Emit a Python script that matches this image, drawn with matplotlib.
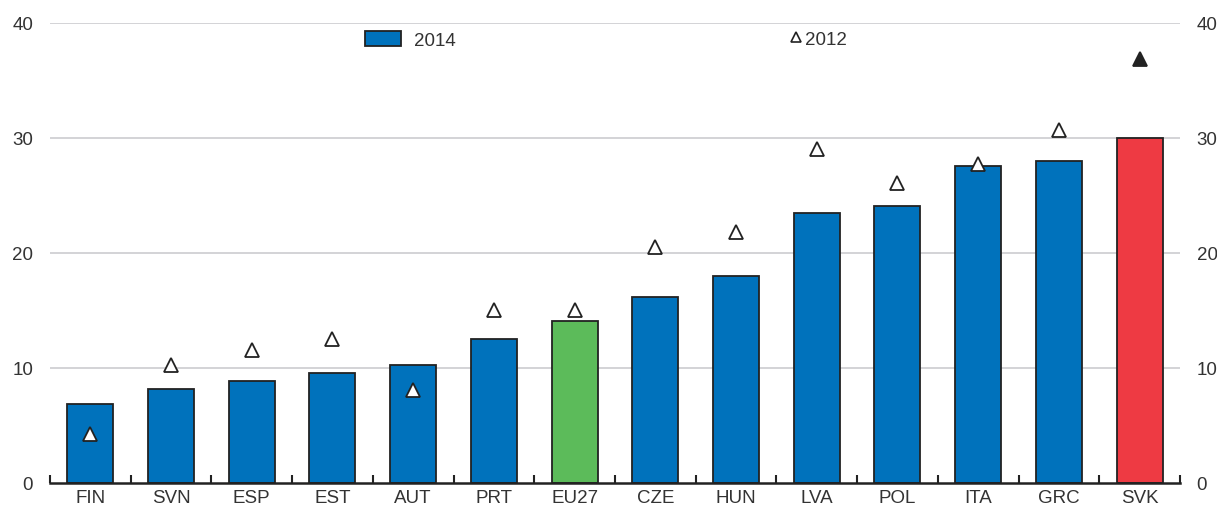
import matplotlib.pyplot as plt
import numpy as np
from matplotlib.lines import Line2D
from matplotlib.patches import Patch

plt.rcParams['font.family'] = ['Liberation Sans', 'DejaVu Sans']

countries = ["FIN", "SVN", "ESP", "EST", "AUT", "PRT", "EU27", "CZE", "HUN", "LVA", "POL", "ITA", "GRC", "SVK"]
val_2014 = [6.9, 8.2, 8.9, 9.6, 10.3, 12.5, 14.1, 16.2, 18.0, 23.5, 24.1, 27.6, 28.0, 30.0]
val_2012 = [4.3, 10.3, 11.6, 12.5, 8.1, 15.0, 15.0, 20.5, 21.8, 29.0, 26.1, 27.7, 30.7, 36.9]

blue = "#0072BC"
green = "#5CBB5A"
red = "#EE3A43"
colors = [green if c == "EU27" else red if c == "SVK" else blue for c in countries]

fig = plt.figure(figsize=(12.17, 5.10), dpi=100)
ax = fig.add_axes([0.041, 0.051, 0.9286, 0.902])
x = np.arange(len(countries))

ax.bar(x, val_2014, width=0.57, color=colors, edgecolor="#222222", linewidth=1.3, zorder=2)
for i, c in enumerate(countries):
    fc = "#222222" if c == "SVK" else "white"
    ax.plot(x[i], val_2012[i], marker="^", markersize=10, markerfacecolor=fc,
            markeredgecolor="#222222", markeredgewidth=1.3, linestyle="none", zorder=3)

ax.set_xlim(-0.5, len(countries) - 0.5)
ax.set_ylim(0, 40)
ax.set_yticks([0, 10, 20, 30, 40])
for y in [10, 20, 30, 40]:
    ax.axhline(y, color="#d3d3d6", linewidth=1.4, zorder=0)

ax.set_xticks(x)
ax.set_xticklabels(countries)
ax.set_xticks(np.arange(-0.5, len(countries), 1.0), minor=True)
ax.tick_params(axis="x", which="major", length=0, labelsize=13.5, colors="#333333", pad=4)
ax.tick_params(axis="x", which="minor", direction="in", length=6, width=1.5, color="#222222")
ax.tick_params(axis="y", length=0, labelsize=13.5, colors="#333333", labelright=True, pad=12)

for s in ["left", "right", "top"]:
    ax.spines[s].set_visible(False)
ax.spines["bottom"].set_linewidth(1.8)
ax.spines["bottom"].set_color("#222222")

leg1 = ax.legend(handles=[Patch(facecolor=blue, edgecolor="#222222", linewidth=1.3, label="2014")],
                 loc="upper left", bbox_to_anchor=(0.264, 1.02), frameon=False, fontsize=13.5,
                 handlelength=1.9, handleheight=0.85, handletextpad=0.7, labelcolor="#333333")
ax.add_artist(leg1)
ax.legend(handles=[Line2D([], [], marker="^", markersize=7, markerfacecolor="white",
                          markeredgecolor="#222222", markeredgewidth=1.2, linestyle="none", label="2012")],
          loc="upper left", bbox_to_anchor=(0.64, 1.02), frameon=False, fontsize=13.5,
          handlelength=0.6, handletextpad=0.2, labelcolor="#333333")

fig.savefig("out.png", dpi=100)
